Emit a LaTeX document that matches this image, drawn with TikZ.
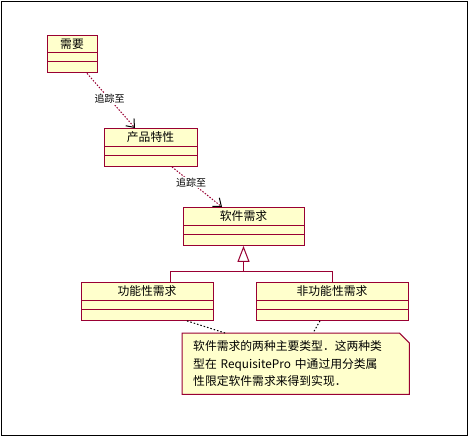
\documentclass[tikz,border=0pt]{standalone}
\usepackage{fontspec}
\setmainfont{Noto Sans CJK SC}
\usetikzlibrary{arrows.meta,shapes.multipart,backgrounds,calc}
\definecolor{umlred}{HTML}{990033}
\definecolor{umlfill}{HTML}{FFFFCC}
\newcommand{\emptyparts}{\nodepart{two}\rule{0pt}{2pt}\nodepart{three}\rule{0pt}{4pt}}

\begin{document}
\begin{tikzpicture}[
    x=1pt, y=-1pt,
    umlclass/.style={rectangle split, rectangle split parts=3, draw=umlred, fill=umlfill, line width=1pt,
        inner xsep=4pt, inner ysep=3pt, anchor=north, font=\fontsize{11.8}{13}\selectfont},
    trace/.style={draw=umlred, line width=1pt, dash pattern=on 1.5pt off 1.5pt,
        -{Straight Barb[length=7pt, width=11pt, color=black, line width=1pt]}},
    tracelabel/.style={fill=white, inner sep=1pt, font=\fontsize{10}{11}\selectfont},
    genline/.style={draw=umlred, line width=1pt},
    notebox/.style={draw=umlred, fill=umlfill, line width=1pt},
    notelink/.style={draw=black, line width=1pt, dash pattern=on 1.5pt off 2pt}
]

\begin{scope}[on background layer]
\fill[white] (0,0) rectangle (469,437);
\end{scope}
\useasboundingbox (0,0) rectangle (469,437);
\draw[black, line width=1.2pt] (1.5,1.5) rectangle (467.5,435.5);

% Classes
\node[umlclass, minimum width=50] (req) at (72,35) {需要\emptyparts};
\node[umlclass, minimum width=93] (feat) at (150.5,128) {产品特性\emptyparts};
\node[umlclass, minimum width=121] (sw) at (243.5,207) {软件需求\emptyparts};
\node[umlclass, minimum width=132] (func) at (147,282) {功能性需求\emptyparts};
\node[umlclass, minimum width=152] (nonfunc) at (332,282) {非功能性需求\emptyparts};

% Note
\node[anchor=north west, minimum width=227, minimum height=61, text width=205, inner xsep=11pt,
      align=left, font=\fontsize{11.8}{17.5}\selectfont] (note) at (182,333)
    {软件需求的两种主要类型．这两种类\\型在 RequisitePro 中通过用分类属\\性限定软件需求来得到实现．};
\begin{scope}[on background layer]
\draw[notebox] (note.north west) -- ([xshift=-10]note.north east) -- ([yshift=-10]note.north east)
    -- (note.south east) -- (note.south west) -- cycle;
\end{scope}

% Trace dependencies
\draw[trace] ([xshift=15]req.south) -- node[tracelabel, pos=0.47] {追踪至} ([xshift=-15.5]feat.north);
\draw[trace] ([xshift=21.5]feat.south) -- node[tracelabel, pos=0.38] {追踪至} ([xshift=-21.5]sw.north);

% Generalization
\coordinate (hub) at ($(sw.south)+(0,26)$);
\draw[genline] ([xshift=23]func.north) |- (hub) -| (nonfunc.north);
\draw[genline, -{Triangle[length=16pt, width=12pt, fill=white, line width=1pt]}] (hub) -- (sw.south);

% Note links
\draw[notelink] ([xshift=40]func.south) -- ([xshift=43]note.north west);
\draw[notelink] ([xshift=-12]nonfunc.south) -- ([xshift=131]note.north west);

\end{tikzpicture}
\end{document}
